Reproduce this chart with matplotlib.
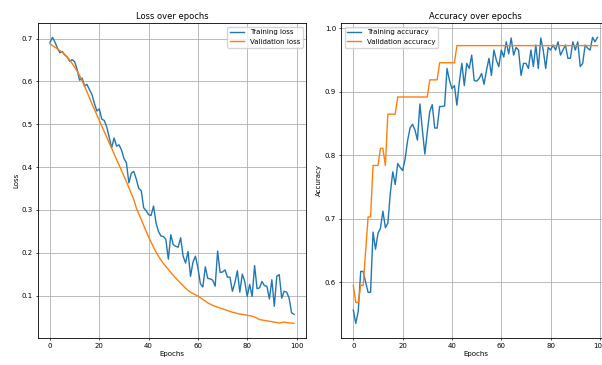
import matplotlib
matplotlib.use("Agg")
import matplotlib.pyplot as plt

# Данные по эпохам
epochs = list(range(100))

train_loss = [
    0.691, 0.703, 0.692, 0.678, 0.667, 0.670, 0.662, 0.657, 0.647, 0.651,
    0.646, 0.628, 0.603, 0.608, 0.590, 0.593, 0.581, 0.570, 0.549, 0.531,
    0.536, 0.512, 0.509, 0.494, 0.470, 0.445, 0.468, 0.449, 0.452, 0.440,
    0.420, 0.410, 0.363, 0.386, 0.390, 0.372, 0.350, 0.345, 0.305, 0.298,
    0.289, 0.287, 0.309, 0.270, 0.250, 0.239, 0.238, 0.231, 0.185, 0.242,
    0.219, 0.215, 0.213, 0.235, 0.192, 0.176, 0.203, 0.145, 0.178, 0.192,
    0.165, 0.128, 0.120, 0.167, 0.140, 0.139, 0.136, 0.122, 0.204, 0.154,
    0.155, 0.160, 0.143, 0.143, 0.110, 0.130, 0.158, 0.108, 0.150, 0.133,
    0.098, 0.126, 0.098, 0.170, 0.116, 0.118, 0.133, 0.123, 0.122, 0.092,
    0.137, 0.075, 0.145, 0.149, 0.094, 0.110, 0.108, 0.094, 0.060, 0.056,
]

val_loss = [
    0.688, 0.684, 0.680, 0.676, 0.672, 0.668, 0.663, 0.657, 0.650, 0.642,
    0.633, 0.624, 0.614, 0.602, 0.589, 0.576, 0.562, 0.548, 0.535, 0.522,
    0.509, 0.496, 0.483, 0.470, 0.457, 0.444, 0.431, 0.418, 0.405, 0.392,
    0.379, 0.366, 0.352, 0.338, 0.324, 0.305, 0.291, 0.278, 0.264, 0.250,
    0.237, 0.225, 0.213, 0.202, 0.192, 0.183, 0.175, 0.168, 0.161, 0.154,
    0.147, 0.141, 0.135, 0.129, 0.123, 0.117, 0.112, 0.108, 0.105, 0.102,
    0.099, 0.095, 0.091, 0.087, 0.083, 0.080, 0.077, 0.075, 0.073, 0.071,
    0.069, 0.067, 0.065, 0.063, 0.061, 0.060, 0.058, 0.057, 0.056, 0.055,
    0.054, 0.053, 0.052, 0.050, 0.047, 0.044, 0.043, 0.042, 0.041, 0.040,
    0.039, 0.038, 0.037, 0.036, 0.037, 0.038, 0.037, 0.036, 0.036, 0.035,
]

train_acc = [
    0.556, 0.535, 0.554, 0.617, 0.617, 0.600, 0.584, 0.584, 0.679, 0.652,
    0.677, 0.685, 0.712, 0.686, 0.693, 0.740, 0.774, 0.754, 0.787, 0.781,
    0.776, 0.794, 0.823, 0.843, 0.849, 0.840, 0.824, 0.881, 0.840, 0.802,
    0.837, 0.869, 0.880, 0.843, 0.843, 0.877, 0.877, 0.878, 0.937, 0.918,
    0.905, 0.910, 0.879, 0.916, 0.945, 0.910, 0.945, 0.937, 0.958, 0.918,
    0.917, 0.921, 0.929, 0.912, 0.934, 0.953, 0.926, 0.966, 0.950, 0.940,
    0.966, 0.955, 0.979, 0.960, 0.985, 0.958, 0.970, 0.966, 0.926, 0.945,
    0.945, 0.937, 0.966, 0.940, 0.974, 0.937, 0.985, 0.966, 0.937, 0.970,
    0.966, 0.974, 0.966, 0.979, 0.958, 0.966, 0.974, 0.953, 0.953, 0.979,
    0.966, 0.979, 0.940, 0.945, 0.974, 0.969, 0.966, 0.986, 0.979, 0.986,
]

val_acc = [
    0.595, 0.568, 0.568, 0.595, 0.595, 0.649, 0.703, 0.703, 0.784, 0.784,
    0.784, 0.811, 0.811, 0.784, 0.865, 0.865, 0.865, 0.865, 0.892, 0.892,
    0.892, 0.892, 0.892, 0.892, 0.892, 0.892, 0.892, 0.892, 0.892, 0.892,
    0.892, 0.919, 0.919, 0.919, 0.919, 0.946, 0.946, 0.946, 0.946, 0.946,
    0.946, 0.946, 0.973, 0.973, 0.973, 0.973, 0.973, 0.973, 0.973, 0.973,
    0.973, 0.973, 0.973, 0.973, 0.973, 0.973, 0.973, 0.973, 0.973, 0.973,
    0.973, 0.973, 0.973, 0.973, 0.973, 0.973, 0.973, 0.973, 0.973, 0.973,
    0.973, 0.973, 0.973, 0.973, 0.973, 0.973, 0.973, 0.973, 0.973, 0.973,
    0.973, 0.973, 0.973, 0.973, 0.973, 0.973, 0.973, 0.973, 0.973, 0.973,
    0.973, 0.973, 0.973, 0.973, 0.973, 0.973, 0.973, 0.973, 0.973, 0.973,
]

# Картинка — уменьшенная вдвое копия, поэтому все размеры примерно пополам
plt.rcParams.update({
    "font.size": 5,
    "axes.titlesize": 6,
    "axes.labelsize": 5,
    "xtick.labelsize": 5,
    "ytick.labelsize": 5,
    "legend.fontsize": 5,
    "axes.linewidth": 0.6,
    "xtick.major.size": 1.75,
    "ytick.major.size": 1.75,
    "xtick.major.width": 0.5,
    "ytick.major.width": 0.5,
    "xtick.major.pad": 1.75,
    "ytick.major.pad": 1.75,
    "axes.titlepad": 3,
    "axes.labelpad": 2,
    "grid.linewidth": 0.6,
    "lines.linewidth": 1.0,
})

fig = plt.figure(figsize=(6.02, 3.65), dpi=100)

# Левый график — потери
ax1 = fig.add_axes([0.0628, 0.0748, 0.4459, 0.862])
ax1.plot(epochs, train_loss, label="Training loss")
ax1.plot(epochs, val_loss, label="Validation loss")
ax1.set_title("Loss over epochs")
ax1.set_xlabel("Epochs")
ax1.set_ylabel("Loss")
ax1.grid(True)
ax1.legend(loc="upper right")

# Правый график — точность (правый край обрезан, как в оригинале)
ax2 = fig.add_axes([0.5666, 0.0748, 0.4462, 0.862])
ax2.plot(epochs, train_acc, label="Training accuracy")
ax2.plot(epochs, val_acc, label="Validation accuracy")
ax2.set_title("Accuracy over epochs")
ax2.set_xlabel("Epochs")
ax2.set_ylabel("Accuracy")
ax2.grid(True)
ax2.legend(loc="upper left")

fig.savefig("out.png", dpi=100)
